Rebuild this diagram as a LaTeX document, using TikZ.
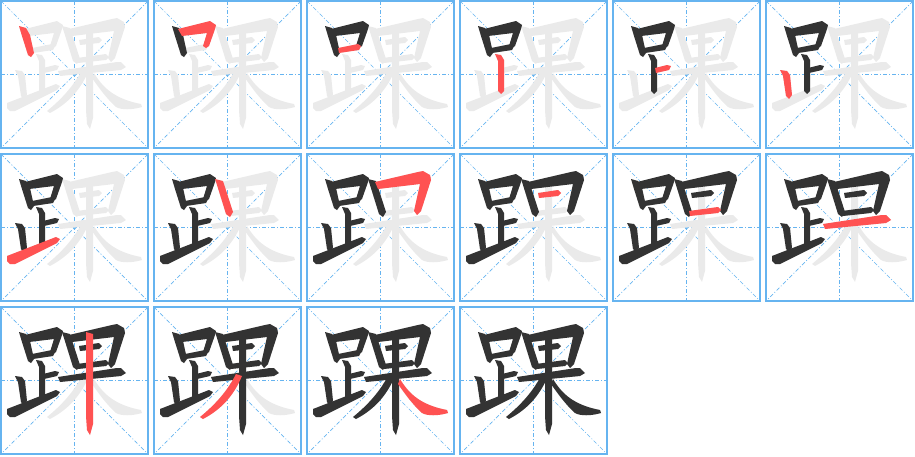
\documentclass[tikz,border=0pt]{standalone}
\usepackage{xcolor}
\usepackage{tikz}
\definecolor{GridBlue}{RGB}{102,180,240}
\definecolor{StrokeDark}{RGB}{51,51,51}
\definecolor{StrokeRed}{RGB}{255,82,82}
\definecolor{GhostGray}{RGB}{234,234,234}
\tikzset{
    cellbox/.style={draw=GridBlue, line width=2.2pt},
    guideline/.style={draw=GridBlue, line width=0.7pt, dash pattern=on 4pt off 2pt on 1pt off 2pt},
    ghost/.style={fill=GhostGray},
    donestroke/.style={fill=StrokeDark},
    curstroke/.style={fill=StrokeRed}
}

% Các nét của chữ, toạ độ trong một ô 149x149
\newcommand{\bihua}[2]{%
    \ifcase#1\or
    % 1: sổ trái (khẩu)
    \fill[#2] (19,26) -- (26,28) -- (30,35) -- (34,53) -- (31,57) -- (28,55) -- (22,36) -- cycle;
    \or
    % 2: ngang gập (khẩu)
    \fill[#2] (25,29) -- (53,22) -- (57,21) -- (63,25) -- (62,29) -- (56,46) -- (53,48) -- (50,46) -- (54,33) -- (29,36) -- cycle;
    \or
    % 3: ngang đáy (khẩu)
    \fill[#2] (32,48) -- (52,44) -- (55,46) -- (53,50) -- (33,53) -- cycle;
    \or
    % 4: sổ giữa
    \fill[#2] (36,54) -- (42,55) -- (45,60) -- (45,91) -- (42,94) -- (39,91) -- (39,61) -- cycle;
    \or
    % 5: ngang ngắn
    \fill[#2] (43,68) -- (55,65) -- (59,66) -- (57,70) -- (44,73) -- cycle;
    \or
    % 6: sổ ngắn trái
    \fill[#2] (15,70) -- (22,71) -- (25,75) -- (27,95) -- (24,99) -- (21,96) -- (18,76) -- cycle;
    \or
    % 7: hất
    \fill[#2] (7,103) -- (56,84) -- (60,86) -- (57,90) -- (15,111) -- (10,111) -- (7,108) -- cycle;
    \or
    % 8: sổ trái (nhật)
    \fill[#2] (62,26) -- (70,28) -- (80,59) -- (77,64) -- (73,61) -- (64,32) -- cycle;
    \or
    % 9: ngang gập (nhật)
    \fill[#2] (69,29) -- (112,19) -- (117,18) -- (124,22) -- (125,27) -- (115,58) -- (111,62) -- (108,58) -- (114,31) -- (72,36) -- cycle;
    \or
    % 10: ngang giữa (nhật)
    \fill[#2] (79,40) -- (99,37) -- (102,40) -- (99,43) -- (80,45) -- cycle;
    \or
    % 11: ngang đáy (nhật)
    \fill[#2] (77,58) -- (106,54) -- (109,57) -- (106,60) -- (78,63) -- cycle;
    \or
    % 12: ngang (mộc)
    \fill[#2] (58,71) -- (117,62) -- (121,62) -- (126,67) -- (121,70) -- (60,76) -- cycle;
    \or
    % 13: sổ (mộc)
    \fill[#2] (86,26) -- (93,28) -- (93,118) -- (90,129) -- (87,124) -- (86,110) -- cycle;
    \or
    % 14: phẩy
    \fill[#2] (83,68) -- (89,70) .. controls (81,89) and (69,103) .. (50,113) -- (47,111) .. controls (63,98) and (75,84) .. (83,68) -- cycle;
    \or
    % 15: mác
    \fill[#2] (94,73) .. controls (103,88) and (115,99) .. (141,104) -- (142,107) .. controls (132,110) and (121,110) .. (116,107) .. controls (107,99) and (99,88) .. (92,78) -- cycle;
    \fi}

\begin{document}
\begin{tikzpicture}[x=1pt, y=-1pt]
    \useasboundingbox (0,0) rectangle (915,456);

    % --- 16 ô: 15 nét + chữ hoàn chỉnh ---
    \foreach \p in {1,...,16} {
        \pgfmathtruncatemacro\c{mod(\p-1,6)}
        \pgfmathtruncatemacro\r{div(\p-1,6)}
        \begin{scope}[shift={(153*\c,153*\r)}]
            % Đường kẻ phụ
            \draw[guideline] (1,74.5) -- (148,74.5);
            \draw[guideline] (74.5,1) -- (74.5,148);
            \draw[guideline] (1,1) -- (148,148);
            \draw[guideline] (148,1) -- (1,148);
            % Chữ mờ phía sau
            \foreach \s in {1,...,15} {\bihua{\s}{ghost}}
            % Nét đã viết và nét đang viết
            \foreach \s in {1,...,15} {
                \ifnum\s<\p \bihua{\s}{donestroke}\fi
                \ifnum\s=\p \bihua{\s}{curstroke}\fi
            }
            \draw[cellbox] (1,1) rectangle (148,148);
        \end{scope}
    }

\end{tikzpicture}
\end{document}
